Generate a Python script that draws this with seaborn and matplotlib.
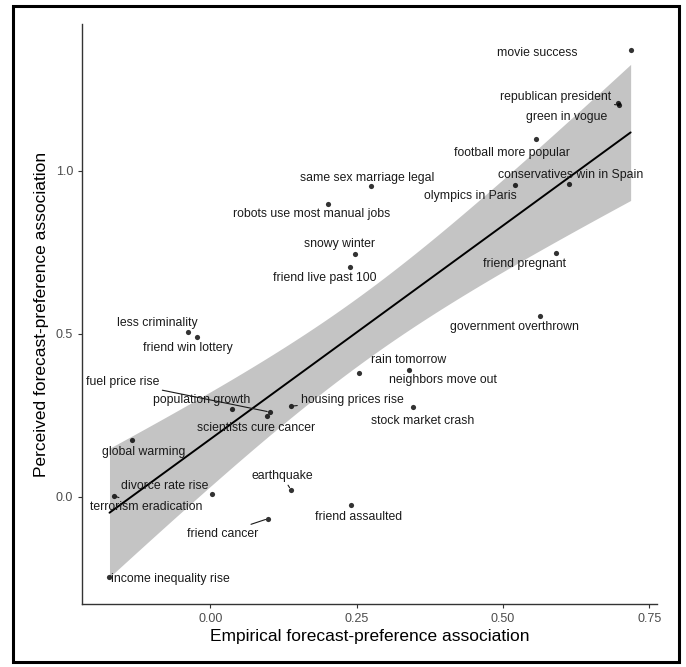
import numpy as np
import pandas as pd
import seaborn as sns
import matplotlib
matplotlib.use("Agg")
import matplotlib.pyplot as plt
from matplotlib.patches import Rectangle
from matplotlib.ticker import FormatStrFormatter

events = [
    "movie success", "republican president", "green in vogue", "football more popular",
    "conservatives win in Spain", "olympics in Paris", "friend pregnant", "government overthrown",
    "same sex marriage legal", "robots use most manual jobs", "snowy winter", "friend live past 100",
    "less criminality", "friend win lottery", "rain tomorrow", "neighbors move out",
    "stock market crash", "housing prices rise", "fuel price rise", "scientists cure cancer",
    "population growth", "global warming", "divorce rate rise", "terrorism eradication",
    "earthquake", "friend assaulted", "friend cancer", "income inequality rise",
]
empirical = [
    0.718, 0.698, 0.696, 0.556,
    0.613, 0.520, 0.590, 0.563,
    0.275, 0.201, 0.247, 0.239,
    -0.038, -0.022, 0.254, 0.340,
    0.346, 0.138, 0.102, 0.097,
    0.038, -0.133, 0.003, -0.165,
    0.138, 0.241, 0.099, -0.172,
]
perceived = [
    1.370, 1.202, 1.208, 1.098,
    0.960, 0.957, 0.749, 0.554,
    0.954, 0.899, 0.746, 0.706,
    0.505, 0.489, 0.379, 0.388,
    0.275, 0.278, 0.260, 0.248,
    0.269, 0.174, 0.009, 0.003,
    0.021, -0.024, -0.067, -0.245,
]

# where each label sits (data coords), as placed in the original figure
label_x = [
    0.558, 0.590, 0.609, 0.515,
    0.616, 0.445, 0.536, 0.520,
    0.268, 0.174, 0.220, 0.195,
    -0.090, -0.038, 0.338, 0.398,
    0.363, 0.242, -0.150, 0.078,
    -0.015, -0.114, -0.078, -0.109,
    0.123, 0.253, 0.022, -0.068,
]
label_y = [
    1.361, 1.226, 1.165, 1.055,
    0.988, 0.924, 0.713, 0.520,
    0.979, 0.869, 0.777, 0.670,
    0.532, 0.456, 0.419, 0.358,
    0.232, 0.297, 0.352, 0.211,
    0.297, 0.138, 0.034, -0.031,
    0.064, -0.061, -0.113, -0.251,
]
with_segment = {"republican president", "fuel price rise", "terrorism eradication",
                "earthquake", "friend cancer", "housing prices rise"}

df = pd.DataFrame({"event": events, "empirical": empirical, "perceived": perceived})

sns.set_theme(style="white")
plt.rcParams["font.family"] = ["Liberation Sans", "DejaVu Sans"]

fig = plt.figure(figsize=(6.86, 6.67), dpi=100)
ax = fig.add_axes([0.1195, 0.0945, 0.8382, 0.8695])

sns.regplot(data=df, x="empirical", y="perceived", ax=ax, ci=None,
            scatter_kws=dict(s=14, color="black", linewidths=0, zorder=3),
            line_kws=dict(color="black", lw=1.4, zorder=2))

# analytic 95% confidence band for the linear fit (like geom_smooth(method="lm"))
x = df["empirical"].to_numpy()
y = df["perceived"].to_numpy()
n = len(x)
slope, intercept = np.polyfit(x, y, 1)
resid = y - (intercept + slope * x)
s = np.sqrt(np.sum(resid ** 2) / (n - 2))
grid = np.linspace(x.min(), x.max(), 100)
se = s * np.sqrt(1 / n + (grid - x.mean()) ** 2 / np.sum((x - x.mean()) ** 2))
t_crit = 2.0555  # t(0.975, df=26)
fit = intercept + slope * grid
ax.fill_between(grid, fit - t_crit * se, fit + t_crit * se, color="#c4c4c4", lw=0, zorder=1)

for ev, lx, ly, px, py in zip(events, label_x, label_y, empirical, perceived):
    if ev in with_segment:
        ax.annotate(ev, xy=(px, py), xytext=(lx, ly), ha="center", va="center",
                    fontsize=8.8, color="#1a1a1a", zorder=4,
                    arrowprops=dict(arrowstyle="-", color="#1a1a1a", lw=0.8,
                                    shrinkA=0, shrinkB=2))
    else:
        ax.text(lx, ly, ev, ha="center", va="center", fontsize=8.8,
                color="#1a1a1a", zorder=4)

ax.set_xlim(-0.219, 0.763)
ax.set_ylim(-0.329, 1.451)
ax.set_xticks([0.0, 0.25, 0.5, 0.75])
ax.set_yticks([0.0, 0.5, 1.0])
ax.xaxis.set_major_formatter(FormatStrFormatter("%.2f"))
ax.yaxis.set_major_formatter(FormatStrFormatter("%.1f"))
ax.tick_params(axis="both", length=3, width=0.8, color="#333333",
               labelcolor="#4d4d4d", labelsize=9, bottom=True, left=True)
for side in ["top", "right"]:
    ax.spines[side].set_visible(False)
for side in ["left", "bottom"]:
    ax.spines[side].set_color("#333333")
    ax.spines[side].set_linewidth(1.0)

ax.set_xlabel("Empirical forecast-preference association", fontsize=12.5, color="black", labelpad=3)
ax.set_ylabel("Perceived forecast-preference association", fontsize=12.5, color="black", labelpad=5)

fig.patches.append(Rectangle((0.019, 0.008), 0.971, 0.983, transform=fig.transFigure,
                             fill=False, edgecolor="black", linewidth=2.2))

fig.savefig("out.png", dpi=100)
